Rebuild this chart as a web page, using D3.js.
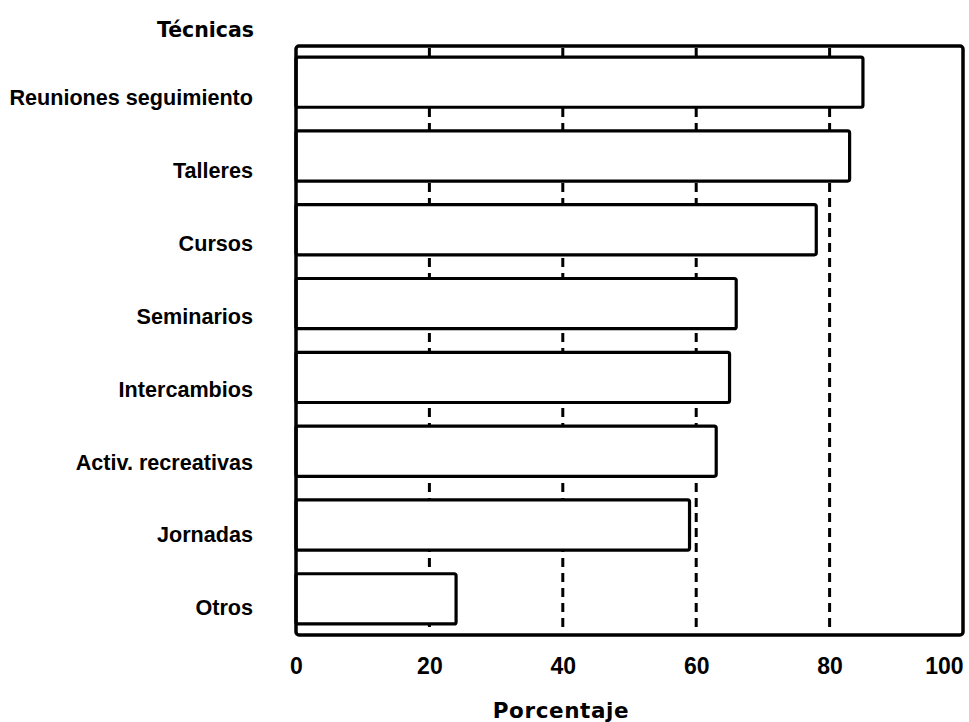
<!DOCTYPE html>
<html><head><meta charset="utf-8">
<script src="https://cdn.jsdelivr.net/npm/d3@7"></script>
<style>body{margin:0;background:#fff}svg{display:block}text{font-family:"Liberation Sans",Arial,sans-serif;font-weight:bold;fill:#000}</style>
</head><body><svg id="c" width="969" height="722"></svg>
<script>
const categories = ["Reuniones seguimiento","Talleres","Cursos","Seminarios","Intercambios","Activ. recreativas","Jornadas","Otros"];
const values = [85, 83, 78, 66, 65, 63, 59, 24];
const ticks = [0, 20, 40, 60, 80, 100];
const gridTicks = [20, 40, 60, 80];

const svg = d3.select("#c");
const x = d3.scaleLinear().domain([0,100]).range([296,963]);
const y = d3.scaleBand().domain(categories).range([46,635]).paddingInner(0.32).paddingOuter(0.15);
const yl = d3.scalePoint().domain(categories).range([97,607]);

// grid lines
svg.append("g").selectAll("line").data(gridTicks).join("line")
  .attr("x1", d=>x(d)).attr("x2", d=>x(d)).attr("y1", 48).attr("y2", 633)
  .attr("stroke","#000").attr("stroke-width",3).attr("stroke-dasharray","9,6");

// bars
svg.append("g").selectAll("rect").data(values).join("rect")
  .attr("x", x(0)).attr("y",(d,i)=>y(categories[i]))
  .attr("width", d=>x(d)-x(0)).attr("height", y.bandwidth())
  .attr("rx",2).attr("fill","#fff").attr("stroke","#000").attr("stroke-width",3.2);

// frame
svg.append("rect").attr("x",x(0)).attr("y",46).attr("width",x(100)-x(0)).attr("height",589)
  .attr("rx",3).attr("fill","none").attr("stroke","#000").attr("stroke-width",3.5);

// x axis labels
const ax = d3.axisBottom(x).tickValues(ticks).tickSize(0).tickPadding(0).tickFormat(d3.format("d"));
const g = svg.append("g").attr("transform","translate(0,658)").call(ax);
g.select(".domain").remove();
g.selectAll("text").attr("font-size",23).attr("dy","0.71em")
  .style("font-family","'Liberation Sans',Arial,sans-serif").style("font-weight","bold").attr("fill","#000")
  .attr("text-anchor", d => d===100 ? "end" : "middle");

// y labels
const ay = d3.axisLeft(yl).tickSize(0).tickPadding(0);
const gy = svg.append("g").attr("transform","translate(253,0)").call(ay);
gy.select(".domain").remove();
gy.selectAll("text").attr("font-size",21.6).attr("dy","0.36em")
  .style("font-family","'Liberation Sans',Arial,sans-serif").style("font-weight","bold").attr("fill","#000");

svg.append("text").attr("x",254).attr("y",37).attr("text-anchor","end").attr("font-size",20.5)
  .style("font-family","'DejaVu Sans',sans-serif").text("Técnicas");
svg.append("text").attr("x",561).attr("y",718).attr("text-anchor","middle").attr("font-size",21.5)
  .attr("letter-spacing","0.6").style("font-family","'DejaVu Sans',sans-serif").text("Porcentaje");
</script></body></html>
